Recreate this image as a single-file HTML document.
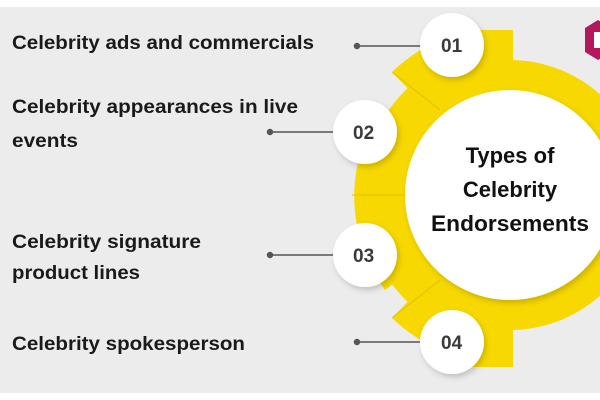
<!DOCTYPE html>
<html><head><style>
html,body{margin:0;padding:0;background:#fff}
svg{display:block}
</style></head><body>
<svg width="600" height="400" viewBox="0 0 600 400" xmlns="http://www.w3.org/2000/svg">
<defs>
<filter id="sh" x="-30%" y="-30%" width="160%" height="160%"><feDropShadow dx="2" dy="3" stdDeviation="3" flood-color="#000" flood-opacity="0.18"/></filter>
<clipPath id="cl"><rect x="300" y="30" width="213" height="340"/></clipPath>
</defs>
<rect x="0" y="7" width="600" height="386" fill="#ececec"/>
<polygon points="598,20 611,28 611,52 598,60 585,52 585,28" fill="#b5175f"/>
<rect x="594" y="32" width="8" height="16" fill="#fff"/>
<g fill="#f7d800">
<circle cx="510" cy="195" r="135"/>
<g clip-path="url(#cl)">
<circle cx="510" cy="195" r="148"/>
<path d="M510,195 L392,72 A170 170 0 0 1 513,25 Z"/>
<path d="M510,195 L392,318 A170 170 0 0 0 513,365 Z"/>
<path d="M510,195 L375,118 A158 158 0 0 0 385,290 Z"/>
</g>
<rect x="460" y="35" width="53" height="40"/>
<rect x="460" y="320" width="53" height="47"/>
</g>
<g stroke="#e2c300" stroke-width="1.5" opacity="0.7">
<line x1="392" y1="72" x2="440" y2="110"/>
<line x1="352" y1="195" x2="405" y2="195"/>
<line x1="392" y1="318" x2="440" y2="280"/>
</g>
<circle cx="510" cy="195" r="105" fill="#fff" filter="url(#sh)"/>
<g stroke="#555" stroke-width="1.5" fill="#555">
<line x1="357" y1="46" x2="430" y2="46"/><circle cx="357" cy="46" r="2.5"/><circle cx="430" cy="46" r="2.5"/>
<line x1="270" y1="132" x2="343" y2="132"/><circle cx="270" cy="132" r="2.5"/><circle cx="343" cy="132" r="2.5"/>
<line x1="270" y1="255" x2="343" y2="255"/><circle cx="270" cy="255" r="2.5"/><circle cx="343" cy="255" r="2.5"/>
<line x1="357" y1="342" x2="430" y2="342"/><circle cx="357" cy="342" r="2.5"/><circle cx="430" cy="342" r="2.5"/>
</g>
<g fill="#fff" filter="url(#sh)">
<circle cx="452" cy="45" r="32"/>
<circle cx="365" cy="132" r="32"/>
<circle cx="365" cy="255" r="32"/>
<circle cx="452" cy="342" r="32"/>
</g>
<g font-family="Liberation Sans, sans-serif" font-weight="bold" font-size="19" fill="#3a3a3a">
<text x="441" y="52">01</text>
<text x="353" y="139">02</text>
<text x="353" y="262">03</text>
<text x="441" y="349">04</text>
</g>
<g font-family="Liberation Sans, sans-serif" font-weight="bold" font-size="22" fill="#111" text-anchor="middle">
<text x="510" y="163">Types of</text>
<text x="510" y="197">Celebrity</text>
<text x="510" y="231" textLength="158" lengthAdjust="spacingAndGlyphs">Endorsements</text>
</g>
<g font-family="Liberation Sans, sans-serif" font-weight="bold" font-size="19" fill="#1a1a1a">
<text x="12" y="49" textLength="302" lengthAdjust="spacingAndGlyphs">Celebrity ads and commercials</text>
<text x="12" y="113" textLength="286" lengthAdjust="spacingAndGlyphs">Celebrity appearances in live</text>
<text x="12" y="147" textLength="66" lengthAdjust="spacingAndGlyphs">events</text>
<text x="12" y="248" textLength="189" lengthAdjust="spacingAndGlyphs">Celebrity signature</text>
<text x="12" y="279" textLength="128" lengthAdjust="spacingAndGlyphs">product lines</text>
<text x="12" y="350" textLength="233" lengthAdjust="spacingAndGlyphs">Celebrity spokesperson</text>
</g>
</svg>
</body></html>
